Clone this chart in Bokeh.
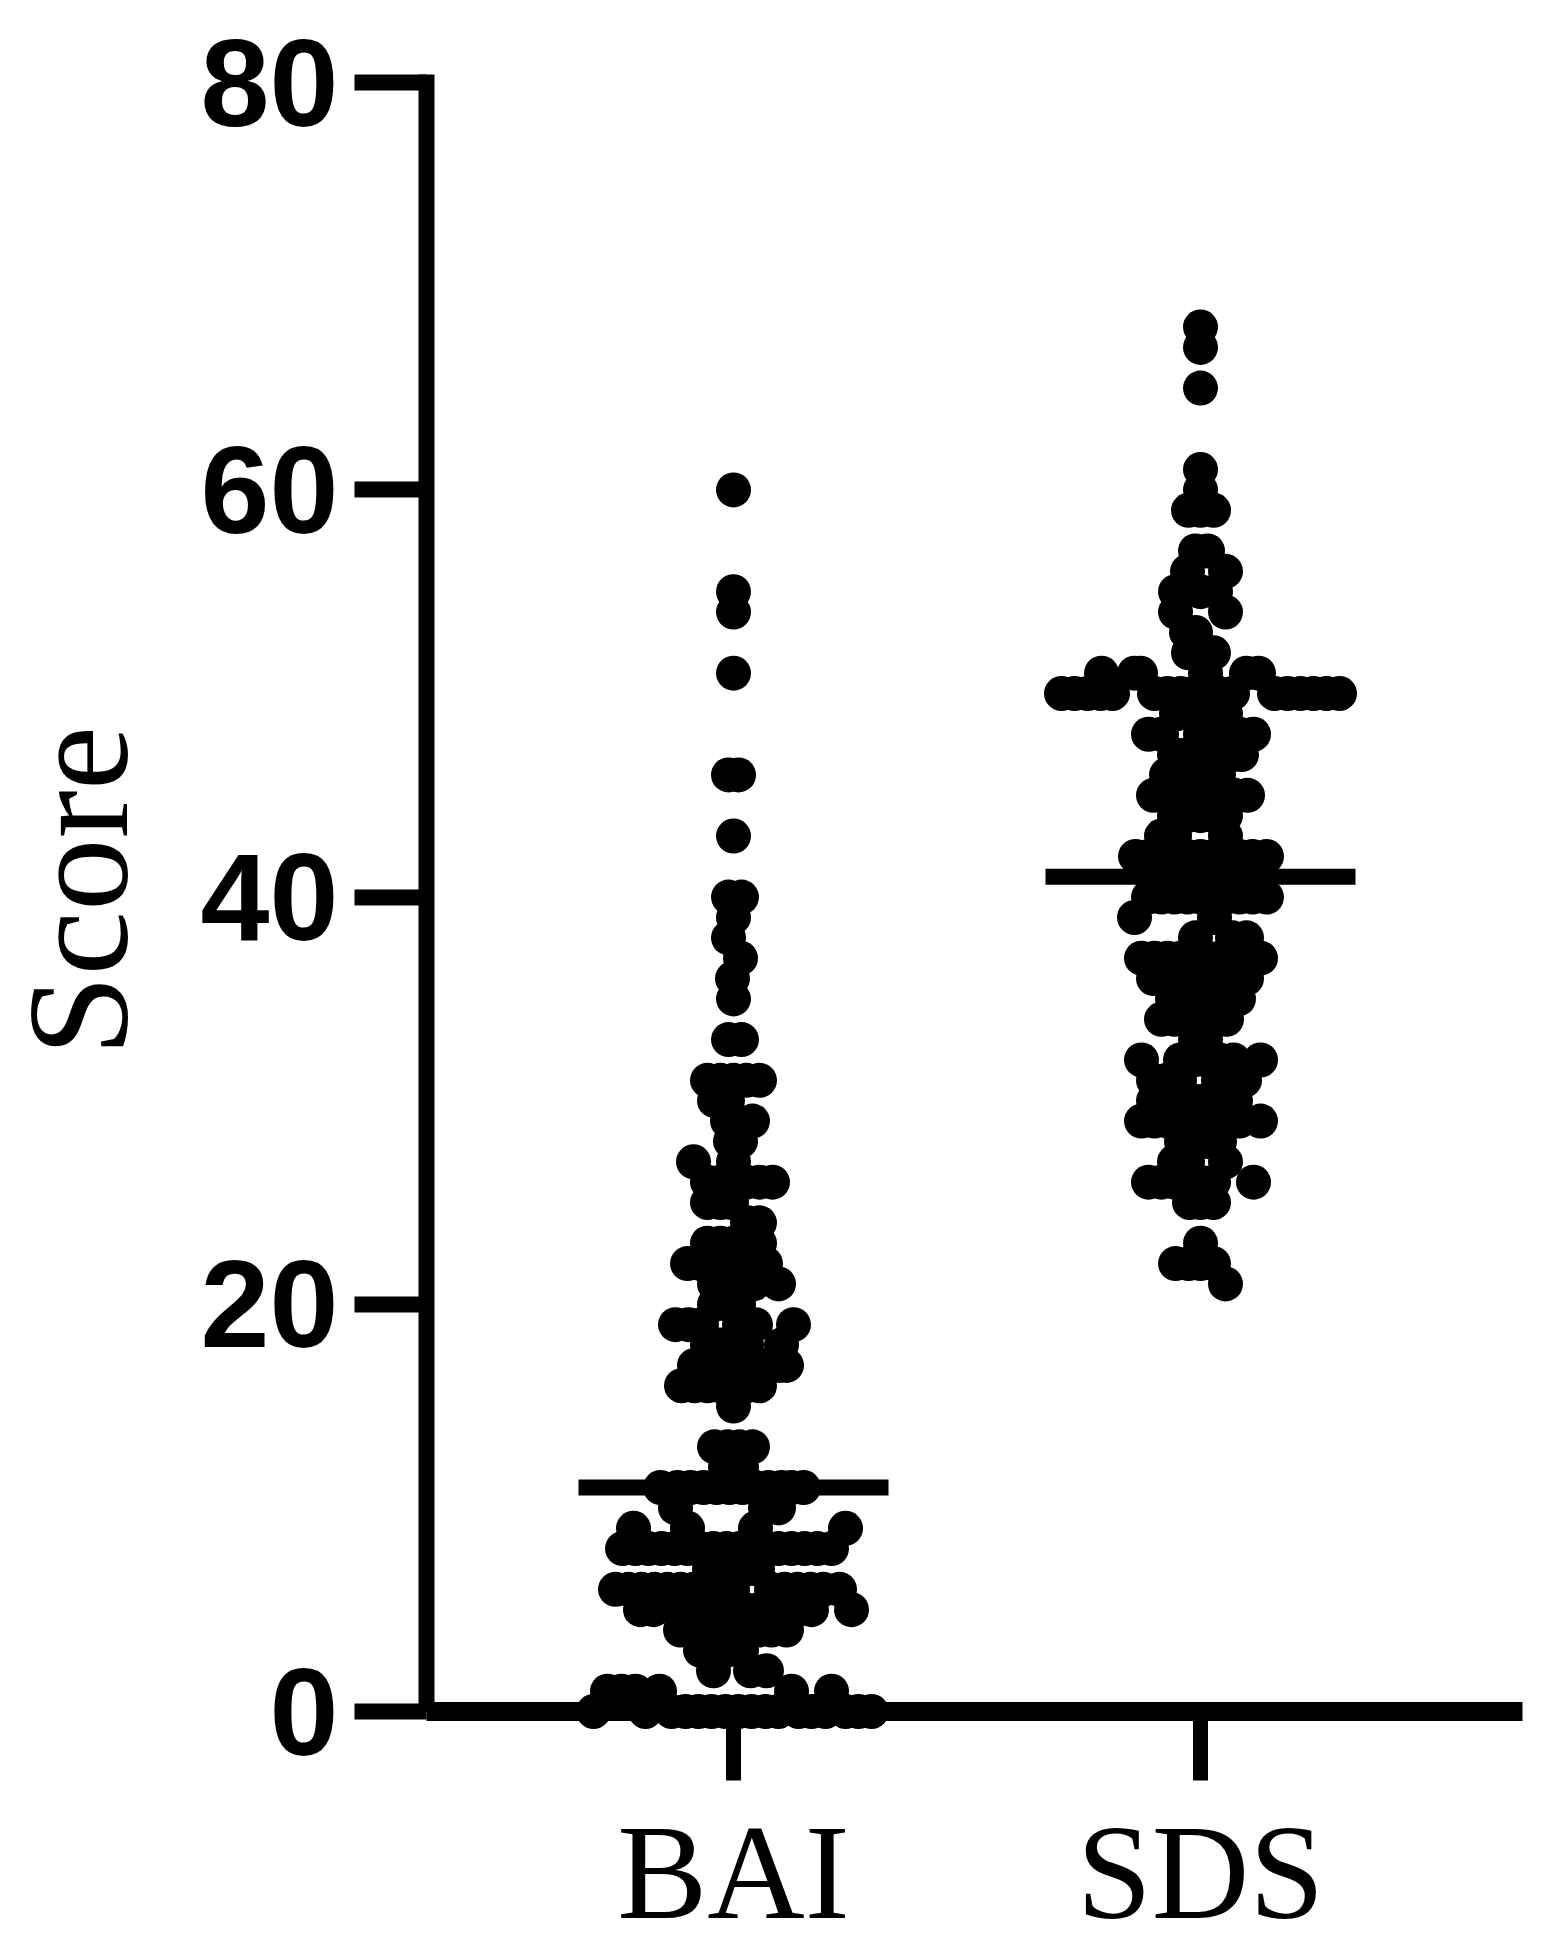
from bokeh.plotting import figure
from bokeh.embed import file_html
from bokeh.resources import INLINE
from bokeh.models import FixedTicker, Range1d, Label, LinearAxis

categories = ["BAI", "SDS"]
y_ticks = [0, 20, 40, 60, 80]
mean_scores = [11, 41]
y_title = "Score"

# swarm rows: score, and horizontal displacement of each dot within the row
bai_scores = [0, 1, 2, 3, 4, 5, 6, 7, 8, 9, 10, 11, 12, 13, 15, 16, 17, 18, 19, 20,
              21, 22, 23, 24, 25, 26, 27, 28, 29, 30, 31, 33, 35, 36, 37, 38, 39, 40,
              43, 46, 51, 54, 55, 60]
bai_spread = [
    [-140, -88, -62, -48, -35, -22, -8, 5, 18, 32, 45, 65, 78, 92, 112, 125, 138],
    [-126, -112, -98, -74, 58, 98],
    [-20, 17, 33],
    [-33, -20, -7, 8],
    [-53, -40, -27, -14, -1, 12, 25, 38, 53],
    [-93, -80, -53, -40, -27, -14, -1, 12, 25, 38, 51, 64, 78, 118],
    [-118, -105, -92, -79, -66, -53, -40, -27, -14, -1, 38, 51, 64, 77, 90, 106],
    [-24, -11, 2, 13, 24],
    [-111, -98, -85, -72, -59, -46, -33, -20, -7, 6, 19, 32, 45, 58, 71, 84, 98],
    [-100, -46, 22, 112],
    [-58, 32, 45],
    [-73, -56, -43, -30, -17, -4, 9, 22, 35, 48, 58, 70],
    [-8, 8],
    [-19, -6, 6, 19],
    [0],
    [-52, -39, -26, -13, 0, 13, 26],
    [-39, -26, -13, 0, 32, 46, 53],
    [-26, -13, 0, 13, 48],
    [-58, -45, -32, 6, 22, 60],
    [-19, -6, 5],
    [-19, -6, 7, 20, 45],
    [-46, -33, -20, -7, 6, 19, 32],
    [-26, -13, 0, 13, 26],
    [14, 26],
    [-26, -13, -2],
    [-26, -13, 0, 13, 26, 39],
    [-40, 0],
    [-3, 7],
    [-6, 19],
    [-19, -6],
    [-26, -13, 0, 13, 26],
    [-5, 8],
    [0],
    [-1],
    [7],
    [-5],
    [0],
    [-5, 8],
    [0],
    [-5, 5],
    [0],
    [0],
    [0],
    [0],
]

sds_scores = [21, 22, 23, 25, 26, 27, 28, 29, 30, 31, 32, 33, 34, 35, 36, 37, 38, 39,
              40, 41, 42, 43, 44, 45, 46, 47, 48, 49, 50, 51, 52, 53, 54, 55, 56, 57,
              59, 60, 61, 65, 67, 68]
sds_spread = [
    [25],
    [-25, -12, 0, 13],
    [0],
    [-11, 0, 13],
    [-52, -39, -26, -13, 0, 13, 53],
    [-26, -13, 25],
    [-19, -6, 7, 19],
    [-59, -46, -33, -20, 0, 13, 26, 39, 60],
    [-47, -34, -21, -8, 5, 18, 35],
    [-47, -34, -21, 18, 31, 44],
    [-59, -20, -7, 6, 19, 33, 60],
    [-5, 5],
    [-39, -26, -13, 13, 26],
    [-28, -15, -2, 11, 24, 38],
    [-47, -34, -21, -8, 5, 18, 31, 46],
    [-59, -46, -33, -20, -7, 6, 19, 32, 60],
    [-5, 32, 46],
    [-66, 14],
    [-52, -39, -26, -13, 0, 13, 26, 39, 52, 66],
    [-49, -36, -23, -10, 3, 16, 29, 42, 62],
    [-65, -52, -39, -26, -13, 0, 13, 26, 39, 52, 66],
    [-39, -26, 25],
    [-26, -13, 0, 13, 25],
    [-47, -34, -5, 8, 21, 34, 47],
    [-34, -21, -8, 18],
    [-26, -13, 0, 32, 41],
    [-52, -39, 0, 13, 26, 39, 53],
    [-24, -11, 2, 13, 25],
    [-139, -126, -113, -100, -88, -46, -33, -20, -7, 6, 19, 32,
     74, 87, 100, 113, 126, 139],
    [-99, -66, -60, 5, 46, 58],
    [-12, 0, 13],
    [-14, -5],
    [-25, 25],
    [-25, 0, 15],
    [-13, 25],
    [-5, 7],
    [-12, 0, 13],
    [0],
    [0],
    [0],
    [0],
    [0],
]

PX_PER_CAT = 467.0
PX_PER_SCORE = 20.36


def swarm(center, scores, spread):
    xs, ys = [], []
    for score, row in zip(scores, spread):
        for d in row:
            xs.append(center + d / PX_PER_CAT)
            ys.append(score)
    return xs, ys


# the frame covers the whole canvas down to the tick ends, since fixed axes clip to it
frame_w, frame_h = 1552, 1785
x_start = 1 - 733 / PX_PER_CAT
x_axis_pos = 1 - (733 - 426) / PX_PER_CAT
x_axis_end = 1 + (1522 - 733) / PX_PER_CAT
y_top = 1711 / PX_PER_SCORE
y_bottom = (1711 - frame_h) / PX_PER_SCORE

p = figure(
    frame_width=frame_w, frame_height=frame_h,
    x_range=Range1d(x_start, x_start + frame_w / PX_PER_CAT),
    y_range=Range1d(y_bottom, y_top),
    output_backend="svg", toolbar_location=None,
    min_border_left=0, min_border_top=0, min_border_right=0, min_border_bottom=0,
    background_fill_color="white", border_fill_color="white", outline_line_color=None,
)
p.grid.visible = False

for center, scores, spread, mean in zip([1, 2], [bai_scores, sds_scores],
                                        [bai_spread, sds_spread], mean_scores):
    xs, ys = swarm(center, scores, spread)
    p.scatter(xs, ys, size=35, color="black", line_color=None)
    p.line([center - 155 / PX_PER_CAT, center + 155 / PX_PER_CAT], [mean, mean],
           line_width=16, line_color="black", line_cap="butt")

ya = p.yaxis[0]
ya.fixed_location = x_axis_pos
ya.ticker = FixedTicker(ticks=y_ticks)
ya.bounds = (0, 80.4)
ya.axis_line_width = 16
ya.axis_line_color = "black"
ya.major_tick_line_width = 16
ya.major_tick_line_color = "black"
ya.major_tick_out = 72
ya.major_tick_in = 0
ya.minor_tick_line_color = None
ya.major_label_text_font = "Liberation Sans"
ya.major_label_text_font_style = "bold"
ya.major_label_text_font_size = "124px"
ya.major_label_text_color = "black"
ya.major_label_standoff = 16

p.add_layout(Label(x=77, x_units="screen", y=40.3, y_units="data", text=y_title,
                   angle=90, angle_units="deg", text_align="center",
                   text_baseline="alphabetic", text_font="Liberation Serif",
                   text_font_size="145px", text_color="black"))

# category names sit in the panel under the frame; the baseline at 0 carries the ticks
xa = p.xaxis[0]
xa.ticker = FixedTicker(ticks=[1, 2])
xa.major_label_overrides = {1: categories[0], 2: categories[1]}
xa.axis_line_color = None
xa.major_tick_line_color = None
xa.minor_tick_line_color = None
xa.major_tick_out = 0
xa.major_tick_in = 0
xa.major_label_text_font = "Liberation Serif"
xa.major_label_text_font_size = "135px"
xa.major_label_text_color = "black"
xa.major_label_standoff = 12

base = LinearAxis(fixed_location=0, ticker=FixedTicker(ticks=[1, 2]),
                  bounds=(x_axis_pos, x_axis_end),
                  major_label_overrides={1: "", 2: ""},
                  axis_line_width=19, axis_line_color="black",
                  major_tick_line_width=15, major_tick_line_color="black",
                  major_tick_out=69, major_tick_in=0, minor_tick_line_color=None)
p.add_layout(base, "below")

open("out.html", "w").write(file_html(p, INLINE))
